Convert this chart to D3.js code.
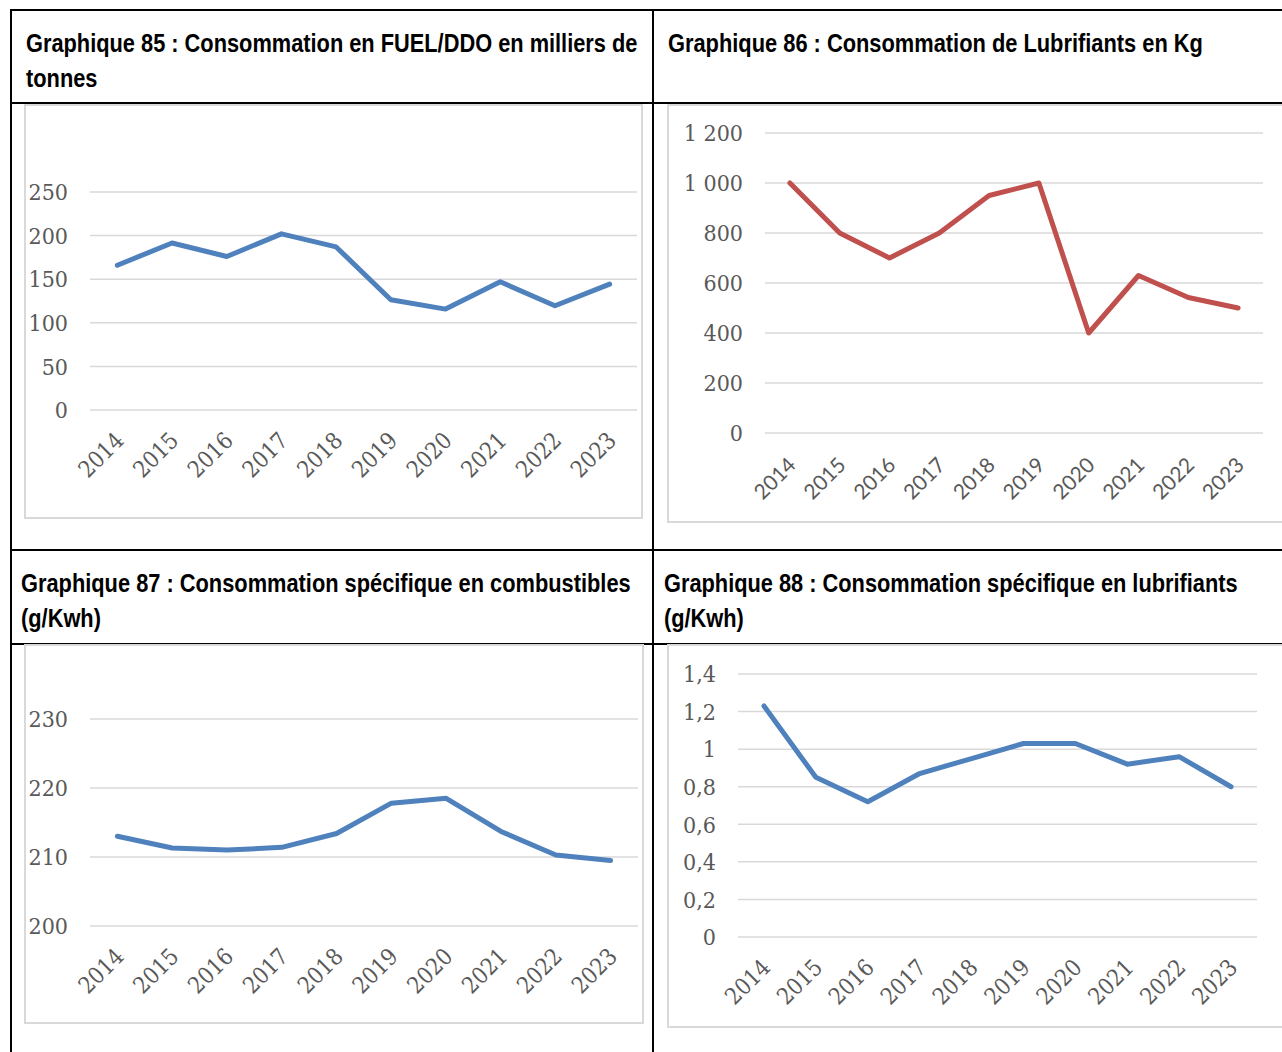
<!DOCTYPE html>
<html>
<head>
<meta charset="utf-8">
<script src="https://cdn.jsdelivr.net/npm/d3@7"></script>
<style>
  body { margin: 0; background: #fff; }
  .title { font-family: "Liberation Sans Narrow", "Arial Narrow", "Liberation Sans", sans-serif; font-weight: bold; font-size: 25px; fill: #000; }
  .ylab, .xlab { font-family: "DejaVu Serif Condensed", "DejaVu Serif", serif; font-stretch: condensed; font-size: 23px; fill: #595959; }
  .xlab.sans { font-family: Lato, "Open Sans", sans-serif; font-stretch: normal; font-size: 21px; }
</style>
</head>
<body>
<div id="chart"></div>
<script>
// years on the x axis (same for all four charts)
var years = ["2014", "2015", "2016", "2017", "2018", "2019", "2020", "2021", "2022", "2023"];

// Graphique 85 : FUEL/DDO (milliers de tonnes)
var fuelValues = [166, 191.5, 176, 202, 187, 126.5, 115.7, 147, 119.5, 144.3];
var fuelTicks = [0, 50, 100, 150, 200, 250];

// Graphique 86 : Lubrifiants (Kg)
var lubValues = [1000, 800, 700, 800, 950, 1000, 400, 630, 542, 500];
var lubTicks = [0, 200, 400, 600, 800, 1000, 1200];

// Graphique 87 : conso specifique combustibles (g/Kwh)
var combSpecValues = [213.0, 211.3, 211.0, 211.4, 213.4, 217.8, 218.5, 213.7, 210.3, 209.5];
var combSpecTicks = [200, 210, 220, 230];

// Graphique 88 : conso specifique lubrifiants (g/Kwh)
var lubSpecValues = [1.23, 0.85, 0.72, 0.87, 0.95, 1.03, 1.03, 0.92, 0.96, 0.80];
var lubSpecTicks = [0, 0.2, 0.4, 0.6, 0.8, 1, 1.2, 1.4];

var titles85 = ["Graphique 85 : Consommation en FUEL/DDO en milliers de", "tonnes"];
var titles86 = ["Graphique 86 : Consommation de Lubrifiants en Kg"];
var titles87 = ["Graphique 87 : Consommation spécifique en combustibles", "(g/Kwh)"];
var titles88 = ["Graphique 88 : Consommation spécifique en lubrifiants", "(g/Kwh)"];

var width = 1282, height = 1052;
var fr = d3.formatLocale({decimal: ",", thousands: "\u00a0", grouping: [3], currency: ["", " €"]});

var svg = d3.select("#chart")
  .append("svg")
  .attr("width", width)
  .attr("height", height);

//Table borders
var border = svg.append("g").attr("stroke", "#000").attr("stroke-width", 2);
[[11, 10, 1282, 10], [11, 103, 1282, 103], [11, 550, 1282, 550], [11, 644, 1282, 644],
 [11, 9, 11, 1052], [653, 9, 653, 1052]].forEach(function(l) {
  border.append("line").attr("x1", l[0]).attr("y1", l[1]).attr("x2", l[2]).attr("y2", l[3]);
});

//Titles: squeezed horizontally to the narrow width of the original font
function drawTitle(lines, x, y0, target) {
  var t0 = svg.append("text").attr("class", "title").text(lines[0]);
  var k = target / t0.node().getComputedTextLength();
  t0.remove();
  lines.forEach(function(t, i) {
    svg.append("text")
      .attr("class", "title")
      .attr("transform", "translate(" + x + "," + (y0 + i * 35) + ") scale(" + k + ",1)")
      .text(t);
  });
}
drawTitle(titles85, 26, 52, 612);
drawTitle(titles86, 668, 52, 535);
drawTitle(titles87, 21, 592, 610);
drawTitle(titles88, 664, 592, 574);

//Draw one line chart
function drawChart(cfg) {
  var g = svg.append("g");

  g.append("rect")
    .attr("x", cfg.frame[0]).attr("y", cfg.frame[1])
    .attr("width", cfg.frame[2]).attr("height", cfg.frame[3])
    .attr("fill", "none")
    .attr("stroke", "#d9d9d9")
    .attr("stroke-width", 2);

  var x = d3.scaleBand()
    .domain(years)
    .range([cfg.left, cfg.right])
    .padding(0);
  var y = d3.scaleLinear()
    .domain(cfg.domain)
    .range([cfg.bottom, cfg.top]);

  //gridlines
  g.selectAll(".grid")
    .data(cfg.ticks)
    .enter()
    .append("line")
    .attr("x1", cfg.left)
    .attr("x2", cfg.right)
    .attr("y1", function(d) { return y(d); })
    .attr("y2", function(d) { return y(d); })
    .attr("stroke", "#d9d9d9")
    .attr("stroke-width", 1.5);

  //y labels
  g.selectAll(".ylab")
    .data(cfg.ticks)
    .enter()
    .append("text")
    .attr("class", "ylab")
    .attr("x", cfg.left - 22)
    .attr("y", function(d) { return y(d); })
    .attr("dy", "0.36em")
    .attr("text-anchor", "end")
    .text(cfg.format);

  //x labels, rotated
  g.selectAll(".xlab")
    .data(years)
    .enter()
    .append("text")
    .attr("class", cfg.sansX ? "xlab sans" : "xlab")
    .attr("text-anchor", "end")
    .attr("dy", "0.36em")
    .attr("transform", function(d) {
      var px = x(d) + x.bandwidth() / 2 + 2;
      var py = cfg.bottom + cfg.xOff;
      return "translate(" + px + "," + py + ") rotate(-45)";
    })
    .text(function(d) { return d; });

  var line = d3.line()
    .x(function(d, i) { return x(years[i]) + x.bandwidth() / 2; })
    .y(function(d) { return y(d); });

  g.append("path")
    .datum(cfg.values)
    .attr("d", line)
    .attr("fill", "none")
    .attr("stroke", cfg.color)
    .attr("stroke-width", 5)
    .attr("stroke-linejoin", "round")
    .attr("stroke-linecap", "round");
}

drawChart({
  frame: [25, 105, 617, 413],
  left: 90, right: 637, top: 192, bottom: 410,
  domain: [0, 250], ticks: fuelTicks, values: fuelValues,
  format: fr.format("d"), color: "#4f81bd", xOff: 26
});

drawChart({
  frame: [668, 105, 640, 417],
  left: 765, right: 1263, top: 133, bottom: 433,
  domain: [0, 1200], ticks: lubTicks, values: lubValues,
  format: fr.format(",d"), color: "#c0504d", xOff: 28, sansX: true
});

drawChart({
  frame: [25, 645, 618, 378],
  left: 90, right: 638, top: 719, bottom: 926,
  domain: [200, 230], ticks: combSpecTicks, values: combSpecValues,
  format: fr.format("d"), color: "#4f81bd", xOff: 26
});

drawChart({
  frame: [668, 645, 640, 382],
  left: 738, right: 1257, top: 674, bottom: 937,
  domain: [0, 1.4], ticks: lubSpecTicks, values: lubSpecValues,
  format: fr.format("~f"), color: "#4f81bd", xOff: 26
});
</script>
</body>
</html>
